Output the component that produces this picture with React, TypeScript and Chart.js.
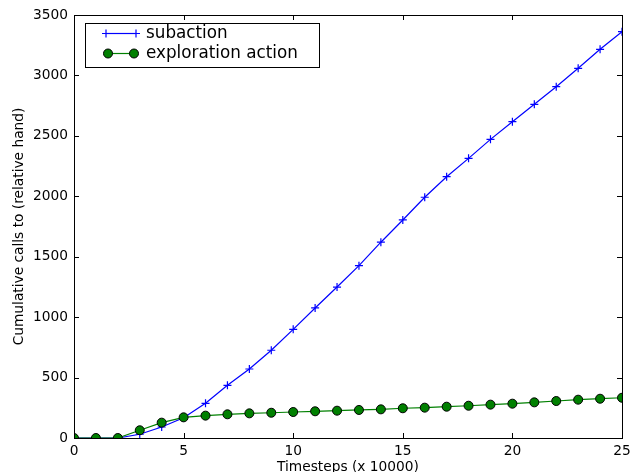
import React, { useEffect, useRef } from "react";
import { Chart, registerables } from "chart.js";

Chart.register(...registerables);

const timesteps = [0, 1, 2, 3, 4, 5, 6, 7, 8, 9, 10, 11, 12, 13, 14, 15, 16, 17, 18, 19, 20, 21, 22, 23, 24, 25];
const subaction = [0, 0, 0, 31, 91, 168, 287, 436, 571, 726, 899, 1076, 1249, 1426, 1620, 1804, 1992, 2162, 2314, 2471, 2617, 2761, 2907, 3059, 3216, 3362];
const exploration = [0, 0, 0, 64, 127, 171, 185, 196, 204, 209, 215, 221, 226, 232, 237, 246, 251, 259, 267, 276, 284, 295, 306, 317, 325, 333];
const xTicks = [0, 5, 10, 15, 20, 25];
const yTicks = [0, 500, 1000, 1500, 2000, 2500, 3000, 3500];
const seriesLabels = ["subaction", "exploration action"];
const xTitle = "Timesteps (x 10000)";
const yTitle = "Cumulative calls to (relative hand)";

const FONT = "'DejaVu Sans', sans-serif";
const BLUE = "#0000ff";
const GREEN = "#008000";

function drawCross(ctx: CanvasRenderingContext2D, x: number, y: number, r: number) {
  ctx.beginPath();
  ctx.moveTo(x - r, y);
  ctx.lineTo(x + r, y);
  ctx.moveTo(x, y - r);
  ctx.lineTo(x, y + r);
  ctx.stroke();
}

function drawDot(ctx: CanvasRenderingContext2D, x: number, y: number, r: number) {
  ctx.beginPath();
  ctx.arc(x, y, r, 0, Math.PI * 2);
  ctx.fillStyle = GREEN;
  ctx.fill();
  ctx.strokeStyle = "#000";
  ctx.lineWidth = 1;
  ctx.stroke();
}

const framePlugin = {
  id: "frameAndLegend",
  afterDraw(chart: any) {
    const ctx: CanvasRenderingContext2D = chart.ctx;
    const { left, right, top, bottom } = chart.chartArea;
    const xs = chart.scales.x;
    const ys = chart.scales.y;
    ctx.save();
    ctx.strokeStyle = "#000";
    ctx.lineWidth = 1;
    ctx.strokeRect(Math.round(left) + 0.5, Math.round(top) + 0.5, Math.round(right - left), Math.round(bottom - top));
    const tl = 5;
    ctx.beginPath();
    for (const v of xTicks) {
      const px = Math.round(xs.getPixelForValue(v)) + 0.5;
      ctx.moveTo(px, bottom);
      ctx.lineTo(px, bottom - tl);
      ctx.moveTo(px, top);
      ctx.lineTo(px, top + tl);
    }
    for (const v of yTicks) {
      const py = Math.round(ys.getPixelForValue(v)) + 0.5;
      ctx.moveTo(left, py);
      ctx.lineTo(left + tl, py);
      ctx.moveTo(right, py);
      ctx.lineTo(right - tl, py);
    }
    ctx.stroke();

    // legend
    const bx = left + 11;
    const by = top + 7.5;
    const bw = 234;
    const bh = 44;
    ctx.fillStyle = "#fff";
    ctx.fillRect(bx, by, bw, bh);
    ctx.strokeStyle = "#000";
    ctx.strokeRect(Math.round(bx) + 0.5, Math.round(by) + 0.5, bw, bh);
    const lx1 = bx + 21;
    const lx2 = bx + 51;
    const y1 = by + 11;
    const y2 = by + 31;
    ctx.strokeStyle = BLUE;
    ctx.lineWidth = 1.2;
    ctx.beginPath();
    ctx.moveTo(lx1, y1);
    ctx.lineTo(lx2, y1);
    ctx.stroke();
    drawCross(ctx, lx1, y1, 4);
    drawCross(ctx, lx2, y1, 4);
    ctx.strokeStyle = GREEN;
    ctx.beginPath();
    ctx.moveTo(lx1 + 2, y2);
    ctx.lineTo(lx2 - 2, y2);
    ctx.stroke();
    drawDot(ctx, lx1 + 2, y2, 4.5);
    drawDot(ctx, lx2 - 2, y2, 4.5);
    ctx.fillStyle = "#000";
    ctx.font = `16.8px ${FONT}`;
    ctx.textBaseline = "middle";
    ctx.textAlign = "left";
    ctx.fillText(seriesLabels[0], bx + 61, y1);
    ctx.fillText(seriesLabels[1], bx + 61, y2);
    ctx.restore();
  },
};

export default function App() {
  const ref = useRef<HTMLCanvasElement | null>(null);
  useEffect(() => {
    if (!ref.current) return;
    const chart = new Chart(ref.current, {
      type: "line",
      data: {
        datasets: [
          {
            label: seriesLabels[0],
            data: timesteps.map((t, i) => ({ x: t, y: subaction[i] })),
            borderColor: BLUE,
            backgroundColor: BLUE,
            borderWidth: 1.2,
            pointStyle: "cross",
            pointRadius: 4,
            pointBorderWidth: 1.2,
            pointBorderColor: BLUE,
            tension: 0,
            clip: 0,
            order: 1,
          },
          {
            label: seriesLabels[1],
            data: timesteps.map((t, i) => ({ x: t, y: exploration[i] })),
            borderColor: GREEN,
            backgroundColor: GREEN,
            borderWidth: 1.2,
            pointStyle: "circle",
            pointRadius: 4.5,
            pointBorderWidth: 1,
            pointBorderColor: "#000",
            pointBackgroundColor: GREEN,
            tension: 0,
            clip: 0,
            order: 0,
          },
        ],
      },
      options: {
        animation: false,
        responsive: false,
        events: [],
        layout: { padding: { top: 15, right: 16, left: 0, bottom: 0 } },
        plugins: { legend: { display: false }, tooltip: { enabled: false } },
        scales: {
          x: {
            type: "linear",
            min: 0,
            max: 25,
            grid: { display: false, drawTicks: false },
            border: { display: false },
            afterBuildTicks: (s: any) => {
              s.ticks = xTicks.map((v) => ({ value: v }));
            },
            afterFit: (s: any) => {
              s.height = 34;
            },
            ticks: {
              color: "#000",
              font: { family: FONT, size: 13.75 },
              padding: 5,
              maxRotation: 0,
              autoSkip: false,
              callback: (v: any) => String(v),
            },
            title: {
              display: true,
              text: xTitle,
              color: "#000",
              font: { family: FONT, size: 13.75 },
              padding: { top: 0, bottom: -3.5 },
            },
          },
          y: {
            type: "linear",
            min: 0,
            max: 3500,
            grid: { display: false, drawTicks: false },
            border: { display: false },
            afterBuildTicks: (s: any) => {
              s.ticks = yTicks.map((v) => ({ value: v }));
            },
            afterFit: (s: any) => {
              s.width = 74;
            },
            ticks: {
              color: "#000",
              font: { family: FONT, size: 13.75 },
              padding: 6,
              autoSkip: false,
              callback: (v: any) => String(v),
            },
            title: {
              display: true,
              text: yTitle,
              color: "#000",
              font: { family: FONT, size: 13.75 },
              padding: { top: 11, bottom: 0 },
            },
          },
        },
      },
      plugins: [framePlugin],
    } as any);
    return () => chart.destroy();
  }, []);
  return (
    <div style={{ position: "absolute", left: 0, top: 0, width: 638, height: 472, background: "#fff" }}>
      <canvas ref={ref} width={638} height={472} style={{ display: "block" }} />
    </div>
  );
}
